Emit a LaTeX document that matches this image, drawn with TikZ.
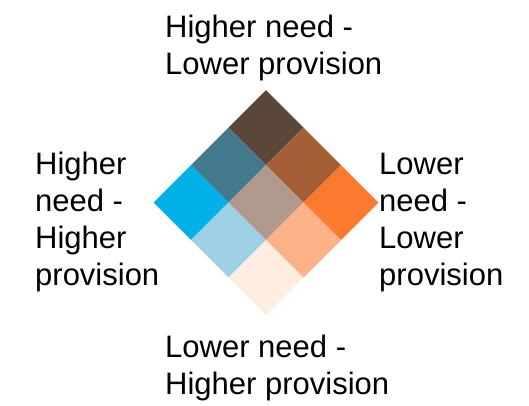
\documentclass[tikz,border=0pt]{standalone}
\usepackage{fontspec}
\setmainfont{Liberation Sans}
\definecolor{cTop}{HTML}{5B4739}
\definecolor{cTeal}{HTML}{42798C}
\definecolor{cRust}{HTML}{A65E37}
\definecolor{cBlue}{HTML}{00B0E8}
\definecolor{cGrey}{HTML}{B19A8D}
\definecolor{cOrange}{HTML}{FB7A2D}
\definecolor{cLtBlue}{HTML}{9DD0E5}
\definecolor{cLtOrange}{HTML}{FDB188}
\definecolor{cPeach}{HTML}{FEEEE2}
\tikzset{
  label text/.style={align=left, inner sep=0pt, anchor=base west,
    font=\fontsize{31}{37}\selectfont, text=black},
}
\begin{document}
\begin{tikzpicture}[x=1pt,y=1pt]
\useasboundingbox (0,0) rectangle (529,405);
% 3x3 grid turned on its corner
\begin{scope}[shift={(266,202.5)}, rotate=45]
  \def\cs{53.03}
  \foreach \col/\row/\clr in {0/0/cBlue, 1/0/cTeal, 2/0/cTop,
                              0/1/cLtBlue, 1/1/cGrey, 2/1/cRust,
                              0/2/cPeach, 1/2/cLtOrange, 2/2/cOrange}{
    \fill[\clr] ({-1.5*\cs+\col*\cs},{1.5*\cs-\row*\cs})
      rectangle ++(\cs,-\cs);
  }
\end{scope}
% corner labels (anchored at the baseline of their last line)
\node[label text] (top) at (165,330) {Higher need -\\Lower provision};
\node[label text] (left) at (35,120) {Higher\\need -\\Higher\\provision};
\node[label text] (right) at (379,120) {Lower\\need -\\Lower\\provision};
\node[label text] (bottom) at (165,11) {Lower need -\\Higher provision};
\end{tikzpicture}
\end{document}
